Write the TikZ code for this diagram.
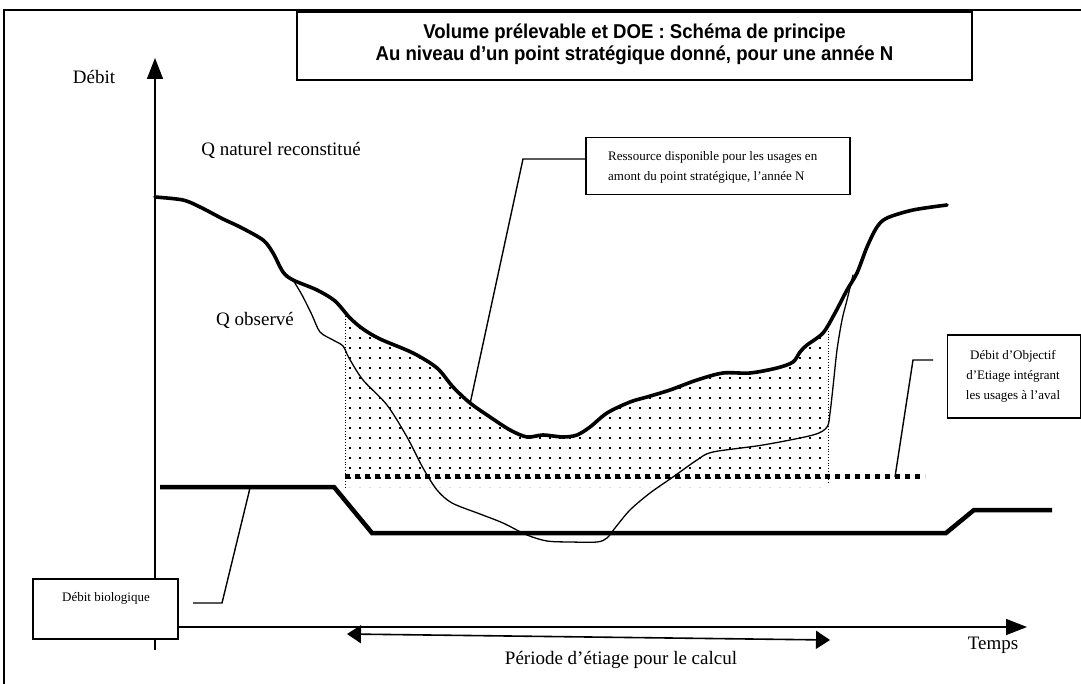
\documentclass[tikz,border=0pt]{standalone}
\usepackage{fontspec}
\setmainfont{Liberation Serif}
\newfontfamily\titlefont{Liberation Sans}[FakeStretch=0.93]
\usetikzlibrary{arrows.meta}
\tikzset{
  bigtxt/.style={font=\fontsize{19}{22}\selectfont, inner sep=0pt},
  smalltxt/.style={font=\fontsize{13}{20}\selectfont, inner sep=0pt},
  boxed/.style={draw, line width=1.4pt, fill=white, inner sep=0pt},
  axis/.style={line width=1.4pt},
  bigarrow/.style={-{Triangle[length=21pt,width=16pt]}},
  natural/.style={line width=3.6pt, line cap=round, line join=round},
  observed/.style={line width=1.3pt, line cap=round},
  bio/.style={line width=4.5pt},
  doe/.style={line width=5pt, dash pattern=on 5pt off 5pt},
  leader/.style={line width=1.4pt},
  bound/.style={line width=0.8pt, dotted},
}
\begin{document}
\begin{tikzpicture}[x=1pt,y=-1pt]
\useasboundingbox (0,0) rectangle (1081,684);
% outer frame
\draw[line width=1.2pt] (4,684) -- (4,10) -- (1081,10);

% dotted area
\begin{scope}
\clip (345,487) -- (345,316) -- (363,330) -- (380,340) -- (413,353) -- (437,367) -- (453,387) -- (470,403) -- (490,417) -- (510,430) -- (527,437) -- (543,435) -- (563,437) -- (577,435) -- (590,427) -- (607,413) -- (630,402) -- (647,397) -- (670,390) -- (697,380) -- (723,373) -- (750,373) -- (777,368) -- (793,363) -- (800,353) -- (807,345) -- (823,333) -- (828,331) -- (828,487) -- cycle;
\foreach \i in {0,...,49}{
  \foreach \j in {0,...,18}{
    \fill (349+\i*10, 307+\j*10) rectangle +(2.2,2.2);
  }
}
\end{scope}
\draw[bound] (345,316) -- (345,487);
\draw[bound] (828,331) -- (828,485);

% DOE line
\coordinate (doeL) at (345,476);
\coordinate (doeR) at (925,476);
\draw[doe] (doeL) -- (doeR);

% natural flow curve
\draw[natural] plot[smooth, tension=0.5] coordinates {(155,197) (183,200) (200,207) (223,219) (240,227) (263,240) (273,253) (283,272) (293,280) (317,290) (335,301) (350,318) (363,329) (380,339) (413,353) (437,368) (453,387) (470,403) (490,417) (510,430) (527,437) (543,435) (563,437) (577,435) (590,427) (607,413) (630,402) (647,397) (670,390) (697,380) (723,373) (750,373) (777,368) (793,362) (800,352) (807,345) (823,333) (835,313) (847,290) (857,273) (867,247) (877,227) (887,218) (913,210) (947,205)};

% observed flow curve
\draw[observed] plot[smooth, tension=0.5] coordinates {(293,280) (302,295) (312,315) (320,332) (333,340) (343,346) (349,358) (363,380) (387,405) (407,437) (423,468) (437,490) (452,503) (480,514) (503,523) (527,535) (547,541) (570,542) (597,542) (607,538) (615,528) (630,510) (650,493) (673,477) (697,460) (713,452) (763,445) (813,435) (827,427) (830,413) (833,387) (837,350) (842,320) (847,300) (853,275)};

% biological flow
\draw[bio] (160,487) -- (334,487) -- (372,533) -- (946,533) -- (974,510) -- (1052,510);

% axes
\coordinate (yfoot) at (155,650);
\coordinate (ytip) at (155,58);
\coordinate (xtip) at (1027,627);
\draw[axis, bigarrow] (yfoot) -- (ytip);

% boxes
\node[boxed, minimum width=675pt, minimum height=68pt] (title) at (634.5,46) {};
\node[font=\titlefont\bfseries\fontsize{20}{22}\selectfont, align=center, inner sep=0pt] (titletxt) at (634.5,44) {Volume prélevable et DOE : Schéma de principe\\Au niveau d’un point stratégique donné, pour une année N};

\node[boxed, minimum width=264pt, minimum height=57pt] (res) at (718,166) {};
\node[smalltxt, align=left, anchor=north west] (restxt) at (608,151) {Ressource disponible pour les usages en\\amont du point stratégique, l’année N};

\node[boxed, minimum width=133pt, minimum height=83pt] (doebox) at (1014,376.5) {};
\node[smalltxt, align=center] (doetxt) at (1013,376) {Débit d’Objectif\\d’Etiage intégrant\\les usages à l’aval};

\node[boxed, minimum width=145pt, minimum height=60pt] (biobox) at (105.5,609) {};
\node[smalltxt] (biotxt) at (106,598) {Débit biologique};

\draw[axis, bigarrow] (biobox.east |- xtip) -- (xtip);

% labels
\node[bigtxt] (debit) at (94,77) {Débit};
\node[bigtxt] (qnat) at (281,150) {Q naturel reconstitué};
\node[bigtxt] (qobs) at (255,320) {Q observé};
\node[bigtxt] (temps) at (993,645) {Temps};
\node[bigtxt] (periode) at (621,660) {Période d’étiage pour le calcul};

% period double arrow
\coordinate (pL) at (347,634);
\coordinate (pR) at (830,640);
\draw[line width=1.6pt, {Triangle[length=14pt,width=18pt]}-{Triangle[length=14pt,width=18pt]}] (pL) -- (pR);

% leaders
\coordinate (resA) at (523,159);
\coordinate (resB) at (470,404);
\draw[leader] (res.west |- resA) -- (resA) -- (resB);

\coordinate (bioA) at (193,603);
\coordinate (bioB) at (222,603);
\coordinate (bioC) at (250,488);
\draw[leader] (bioA) -- (bioB) -- (bioC);

\coordinate (doeA) at (933,360);
\coordinate (doeB) at (913,360);
\coordinate (doeC) at (895,477);
\draw[leader] (doeA) -- (doeB) -- (doeC);
\end{tikzpicture}
\end{document}
